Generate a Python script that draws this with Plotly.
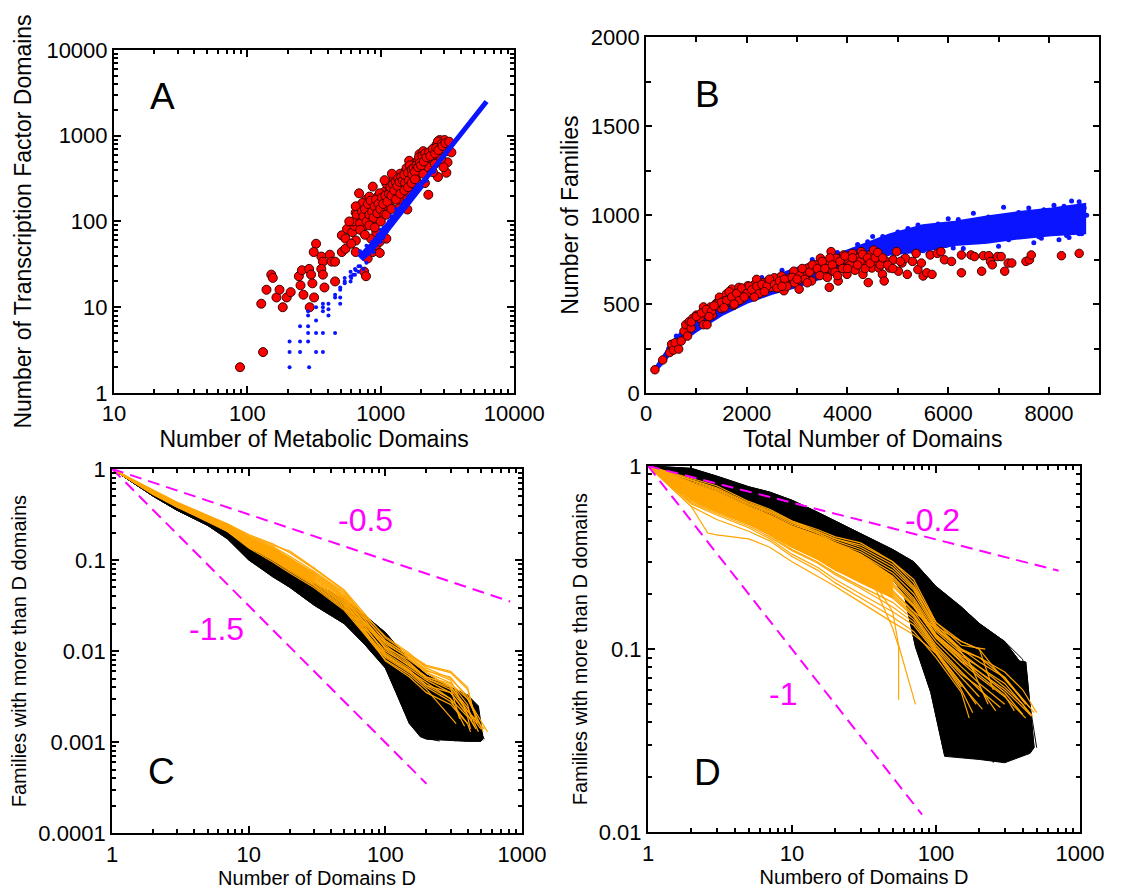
import math
import plotly.graph_objects as go

FONT = "Liberation Sans, Arial, Helvetica, sans-serif"
RED = "#ff0000"
BLUE = "#0a14ff"
ORANGE = "#ffa500"
MAGENTA = "#ff00ff"

# ---------------- Panel A: TF domains vs metabolic domains ----------------
A_RED_X = [88, 131, 127, 184, 139, 151, 155, 165, 174, 197, 211, 243, 256, 250, 263, 290, 300, 307, 316, 293,
           327, 314, 358, 368, 358, 368, 378, 415, 428, 454, 454, 510, 543, 510, 558, 543, 611, 648, 634, 670,
           648, 687, 728, 774, 774, 750, 822, 870, 924, 846, 797, 750, 774, 870, 925, 982, 1010, 1038, 1010, 1067,
           1170, 1170, 1240, 1315, 1395, 1440, 1490, 1540, 1630, 1680, 1790, 1840, 1950, 2010, 2080, 2140, 2270, 2200,
           2390, 2460, 2610, 2680, 2760, 2830, 3000, 3100, 3160, 3100, 3380, 2680, 1580, 1680, 1395, 1100, 980, 925,
           687, 728, 648, 822, 898, 950, 1067, 1100, 1140, 1210, 1282, 1360, 1580, 1735, 1890, 1067, 980, 870,
           2075, 2270, 2460, 2950, 1890, 2080, 2540, 2830, 3200, 2680,
           620, 660, 700, 720, 740, 760, 780, 800, 820, 840, 860, 880, 900, 920, 940, 960, 990, 1020, 1040, 1060,
           1080, 1120, 1150, 1180, 1200, 1230, 1260, 1290, 1330, 1350, 1380, 1420, 1460, 1500, 1520, 1560, 1600,
           1620, 1650, 1700, 1720, 1760, 1800, 1850, 1900, 1930, 1960, 2000, 2050, 2100, 2150, 2200, 2300, 2350,
           2450, 2550, 2600, 2700, 2850, 2900, 3050, 3250, 700, 650, 600, 580, 760, 820, 900, 1000, 1100, 1200,
           1300, 1400, 1500, 1600, 1700, 1800]
A_RED_Y = [2, 3, 11, 10, 16, 24, 22, 13, 16, 13, 15, 23, 27, 18, 14, 28, 24, 19, 13, 10,
           55, 44, 39, 34, 28, 24, 17, 41, 34, 20, 34, 44, 48, 69, 82, 63, 75, 44, 89, 106,
           127, 150, 106, 179, 127, 89, 138, 165, 97, 63, 37, 26, 23, 44, 53, 43, 68, 127, 179, 222,
           150, 233, 303, 213, 360, 255, 180, 393, 510, 330, 470, 303, 610, 393, 530, 280, 205, 470,
           660, 530, 780, 610, 890, 720, 890, 660, 490, 370, 640, 330, 138, 213, 150, 63, 58, 75,
           213, 164, 150, 195, 144, 195, 150, 277, 188, 360, 255, 180, 277, 255, 360, 303, 213, 255,
           360, 430, 375, 430, 510, 660, 470, 535, 790, 860,
           100, 120, 95, 130, 115, 140, 100, 160, 120, 175, 130, 110, 150, 180, 125, 160, 140, 190, 160, 120,
           200, 170, 210, 250, 200, 270, 230, 290, 260, 320, 290, 330, 300, 350, 280, 420, 370,
           300, 450, 400, 350, 420, 380, 450, 430, 560, 480, 450, 580, 500, 620, 560, 640, 580,
           700, 620, 720, 680, 800, 760, 820, 850, 80, 60, 55, 100, 70, 90, 85, 100, 120, 140,
           180, 210, 230, 250, 280, 310]

A_BLUE_X = [207, 290, 207, 248, 327, 368, 207, 248, 285, 248, 285, 285, 327, 368, 454, 327, 285, 285, 327, 368,
            368, 368, 405, 405, 405, 454, 454, 496, 496, 496, 496, 536, 536, 536, 593, 593, 593, 640, 640, 680,
            680, 760, 780, 820, 850, 880, 900, 950, 950, 1000, 1000, 1050, 1100, 1100, 1150, 1200, 1250, 1300,
            1400, 1500, 1600, 700, 650, 620, 600, 740, 780, 860, 700, 1050, 1300, 1700, 1800, 2200, 2500]
A_BLUE_Y = [2, 2, 3, 3, 3, 3, 4, 4, 4, 6, 6, 5, 5, 5, 5, 7, 8, 9, 10, 11,
            9, 10, 8, 9.5, 11, 13, 14, 13, 11, 16, 17, 19, 22, 20, 26, 20, 23, 24, 28, 30,
            26, 40, 33, 42, 48, 44, 62, 58, 70, 80, 58, 65, 90, 75, 100, 115, 110, 140,
            130, 170, 175, 30, 27, 24, 22, 28, 52, 58, 45, 85, 120, 190, 230, 300, 380]

A_BAND_LOW_X = [700, 800, 900, 1000, 1200, 1500, 2000]
A_BAND_LOW_Y = [37, 45, 55, 68, 100, 155, 270]
A_BAND_HIGH_X = [2000, 3000, 4000, 5000, 6200]
A_BAND_HIGH_Y = [270, 600, 1020, 1600, 2500]

# ---------------- Panel B: families vs total domains ----------------
B_RED_X = [176, 331, 471, 507, 542, 577, 647, 697, 753, 788, 823, 858, 894, 929, 999, 1070, 1140, 1210, 1140, 1281,
           1316, 1386, 1457, 1492, 1562, 1597, 1668, 1703, 1738, 1773, 1844, 1914, 1949, 2020, 2090, 2160, 2196, 2266,
           2336, 2421, 2477, 2547, 2618, 2688, 2738, 2794, 2864, 2935, 3005, 3040, 3146, 3216, 3287, 3357, 3427, 3462,
           3533, 3603, 3638, 3674, 3709, 3779, 3815, 3885, 3920, 3990, 4025, 4096, 4166, 4201, 4272, 4307, 4377, 4412,
           4448, 4483, 4518, 4589, 4624, 4694, 4729, 4765, 4835, 4905, 4975, 5011, 5081, 5152, 5187, 5292, 5363, 5398,
           5468, 5503, 5574, 5644, 5679, 5785, 5855, 5925, 6066, 6263, 6263, 6453, 6523, 6664, 6699, 6805, 6840, 6875,
           6981, 7052, 7122, 7192, 7262, 7544, 7614, 7650, 8249, 8601,
           900, 1000, 1100, 1200, 1300, 1400, 1500, 1600, 1650, 1700, 1800, 1850, 1900, 2000, 2050, 2100, 2200, 2250,
           2300, 2400, 2450, 2550, 2600, 2650, 2750, 2800, 2900, 2950, 3050, 3100, 3150, 3250, 3300, 3400, 3450, 3500,
           3550, 3650, 3700, 3750, 3850, 3900, 3950, 4050, 4100, 4150, 4250, 4300, 4350, 4400, 4450, 4550, 4600, 4650,
           4700, 4800, 4900, 5050, 1250, 1350, 1550, 1750, 1950, 2150, 2350, 2700, 3000, 3200, 3600, 3800, 4000, 4200]
B_RED_Y = [131, 186, 228, 274, 241, 283, 247, 292, 347, 384, 320, 402, 365, 420, 438, 420, 384, 384, 484, 484,
           438, 502, 539, 475, 521, 557, 539, 584, 493, 557, 594, 530, 575, 603, 557, 612, 639, 575,
           621, 630, 594, 648, 612, 658, 575, 621, 648, 685, 630, 584, 667, 703, 630, 721, 685, 758,
           667, 731, 594, 795, 685, 758, 630, 703, 776, 667, 740, 785, 703, 758, 795, 667, 731, 621,
           776, 703, 804, 740, 703, 667, 630, 740, 703, 749, 795, 685, 731, 758, 667, 740, 785, 694,
           731, 658, 676, 776, 667, 785, 795, 749, 740, 776, 676, 776, 767, 685, 772, 772, 740, 721,
           767, 767, 685, 731, 731, 740, 749, 776, 772, 785,
           400, 430, 450, 470, 460, 500, 510, 520, 570, 540, 560, 520, 590, 560, 600, 580, 600, 560,
           610, 600, 640, 610, 590, 630, 640, 600, 650, 620, 660, 700, 640, 680, 720, 700, 660, 740,
           700, 760, 720, 680, 740, 700, 770, 720, 760, 690, 740, 780, 700, 760, 730, 760, 790, 720,
           760, 720, 700, 740, 430, 490, 480, 500, 540, 540, 570, 600, 640, 620, 650, 660, 700, 720]

B_BLUE_UP_X = [150, 300, 500, 700, 1000, 1500, 2000, 2500, 3000, 3500, 4200, 4850, 5500, 6130, 6770, 7410,
               8050, 8710]
B_BLUE_UP_Y = [125, 190, 270, 340, 420, 520, 600, 650, 700, 745, 820, 890, 940, 960, 990, 1015,
               1035, 1060]
B_BLUE_LO_X = [8710, 8050, 7410, 6770, 6130, 5500, 4850, 4200, 3500, 3000, 2500, 2000, 1500, 1000, 700, 500,
               300, 150]
B_BLUE_LO_Y = [900, 890, 872, 848, 835, 800, 782, 720, 650, 600, 560, 510, 440, 350, 290, 230,
               160, 115]
B_BLUE_X = [300, 450, 600, 4700, 5200, 5800, 6200, 6800, 7400, 7900, 8300, 8600, 8700, 8650, 8200, 7700, 7000,
            6300, 5600, 5100, 4700, 4400, 4200, 3800, 3300, 2700, 2300, 1800, 1400, 1100,
            5000, 5400, 6000, 6500, 7100, 7600, 8100, 8450, 8550, 8750, 8400, 7850, 7300, 6700, 6100, 5500,
            4500, 5300, 5950, 6600, 7200, 7800, 8350, 8600]
B_BLUE_Y = [180, 250, 320, 880, 925, 950, 975, 990, 1015, 1030, 1050, 1075, 1040, 895, 862, 845, 825,
            812, 785, 762, 850, 850, 835, 790, 750, 690, 650, 590, 520, 470,
            905, 945, 980, 1010, 1045, 1040, 1055, 1080, 905, 1000, 875, 870, 880, 855, 815, 800,
            880, 890, 830, 850, 862, 878, 885, 895]

# ---------------- Panel C: cumulative distributions (metabolic) ----------------
C_X = [1, 2, 3, 5, 7, 10, 15, 20, 30, 50, 70, 100, 150, 200, 300, 400]
C_BLACK_Y = [
    [1, .53, .385, .275, .21, .13, .095, .075, .052, .034, .023, .015, .0075, .005, .0038, .003],
    [1, .52, .375, .265, .20, .125, .09, .07, .048, .031, .021, .013, .006, .004, .003, .0022],
    [1, .52, .37, .26, .195, .12, .085, .066, .045, .029, .019, .011, .005, .0032, .0024, .0018],
    [1, .51, .365, .255, .19, .115, .08, .062, .042, .027, .017, .0095, .0042, .0025, .0018, .0014],
    [1, .51, .36, .25, .185, .11, .078, .058, .040, .025, .016, .0085, .0035, .002, .0014, .0012],
    [1, .505, .355, .245, .18, .108, .074, .055, .037, .023, .0145, .0078, .003, .0016, .0012],
    [1, .50, .35, .24, .175, .105, .07, .052, .034, .021, .013, .007, .0022, .0013, .0011],
    [1, .50, .35, .24, .17, .10, .067, .05, .032, .020, .012, .0066, .0016, .0011],
    [1, .53, .38, .27, .205, .13, .092, .072, .05, .032, .0215, .0135, .0065, .0045, .0034, .0026],
    [1, .515, .37, .26, .195, .118, .083, .064, .044, .028, .018, .0105, .0048, .003, .0021, .0016],
    [1, .51, .36, .25, .185, .112, .077, .059, .039, .026, .015, .009, .0038, .0022, .0015, .0012],
    [1, .505, .355, .245, .18, .107, .072, .054, .036, .022, .014, .0075, .0026, .0015, .0012, .0011],
    [1, .535, .39, .28, .215, .135, .1, .078, .055, .037, .025, .016, .008, .0055, .004, .0033],
]
C_BLACK_END = [(480, .0011), (500, .0011), (520, .00105), (450, .00105), (420, .00105), (350, .00105),
               (330, .00103), (250, .00103), (530, .00108), (470, .00102), (440, .00102), (380, .00102), (500, .0012)]
C_ORANGE_Y = [
    [1, .58, .43, .31, .25, .19, .15, .12, .08, .046, .024, .013, .009, .0068, .0058, .0038],
    [1, .57, .42, .30, .24, .18, .14, .11, .075, .044, .025, .0145, .0095, .0065, .005, .0032],
    [1, .56, .41, .30, .235, .17, .13, .10, .07, .040, .022, .012, .0085, .006, .0052, .003],
    [1, .56, .41, .29, .23, .165, .125, .095, .065, .038, .020, .011, .008, .0058, .0045, .0026],
    [1, .55, .40, .29, .225, .16, .12, .09, .062, .036, .021, .0115, .0075, .005, .004, .0024],
    [1, .55, .40, .28, .22, .155, .115, .088, .060, .034, .018, .010, .007, .0052, .0042, .0022],
    [1, .54, .39, .28, .215, .15, .11, .085, .058, .033, .019, .0095, .0065, .0048, .0035, .002],
    [1, .54, .39, .275, .21, .145, .105, .08, .055, .031, .017, .009, .006, .0045, .003, .0019],
    [1, .53, .385, .27, .21, .14, .10, .078, .053, .030, .016, .0085, .0058, .004, .0028],
    [1, .53, .38, .27, .205, .14, .10, .075, .052, .029, .0165, .0088, .006, .0042, .0035, .002],
    [1, .56, .41, .295, .235, .175, .135, .105, .072, .043, .024, .013, .0088, .0062, .0048],
    [1, .55, .405, .29, .23, .17, .13, .10, .068, .039, .021, .0125, .0082, .0058, .004],
    [1, .57, .42, .30, .24, .175, .135, .10, .073, .041, .023, .0105, .0068, .005, .0038, .0022],
    [1, .54, .395, .28, .22, .16, .12, .09, .063, .035, .019, .0092, .0062, .0042, .003],
    [1, .53, .385, .275, .215, .15, .11, .082, .057, .032, .0175, .0078, .0052, .0035, .0026, .0016],
    [1, .52, .38, .265, .205, .135, .095, .072, .05, .028, .0155, .008, .0055, .0038],
    [1, .57, .425, .305, .245, .185, .145, .125, .082, .047, .026, .014, .0092, .007, .006, .0040],
    [1, .55, .40, .285, .225, .16, .125, .098, .066, .037, .02, .0108, .0072, .0052, .0044, .0030],
]
C_ORANGE_END = [(470, .0016), (520, .0013), (560, .0013), (430, .0017), (480, .0013), (500, .0014),
                (450, .0015), (420, .0014), (400, .0016), (460, .0014), (400, .002), (350, .0018),
                (530, .0014), (380, .0015), (420, .0013), (330, .0016), (440, .0022), (500, .0015)]
C_BLACK_ENV_X = [1, 2, 3, 5, 7, 10, 15, 20, 30, 50, 70, 100, 150, 200, 300, 400, 480, 520,
                 500, 400, 300, 200, 180, 150, 120, 100, 70, 50, 30, 20, 15, 10, 7, 5, 3, 2, 1]
C_BLACK_ENV_Y = [1, .54, .39, .28, .215, .135, .10, .078, .055, .037, .025, .016, .008, .0055, .004, .0033, .0025, .0011,
                 .00102, .00102, .00105, .00108, .00115, .0016, .0035, .0065, .012, .02, .032, .05, .065, .1, .17, .24,
                 .35, .5, 1]
C_ORANGE_ENV_X = [1, 2, 3, 5, 7, 10, 15, 20, 30, 30, 20, 15, 10, 7, 5, 3, 2, 1]
C_ORANGE_ENV_Y = [1, .57, .42, .30, .24, .175, .135, .105, .07, .055, .077, .10, .14, .21, .275, .385, .53, 1]
C_SLOPE_A_X = [1, 820]
C_SLOPE_A_Y = [1, 0.035]
C_SLOPE_B_X = [1, 200]
C_SLOPE_B_Y = [1, 0.00035]

# ---------------- Panel D: cumulative distributions (TF) ----------------
D_BLACK = [
    ([1, 2, 3, 5, 7, 10, 15, 20, 30, 50, 70, 100, 150, 200, 300, 380, 420, 480],
     [1, .97, .88, .77, .72, .65, .56, .50, .43, .35, .30, .22, .17, .138, .11, .086, .085, .029]),
    ([1, 2, 3, 5, 7, 10, 15, 20, 30, 50, 70, 100, 150, 200, 300, 400, 450],
     [1, .95, .86, .75, .70, .63, .54, .48, .41, .33, .28, .205, .16, .13, .10, .08, .031]),
    ([1, 2, 3, 5, 7, 10, 15, 20, 30, 50, 70, 100, 150, 200, 300, 340, 420],
     [1, .93, .84, .73, .68, .61, .52, .46, .40, .32, .27, .20, .15, .12, .09, .085, .028]),
    ([1, 2, 3, 5, 7, 10, 15, 20, 30, 50, 70, 100, 150, 200, 250, 330],
     [1, .92, .82, .72, .66, .60, .51, .45, .38, .31, .26, .19, .145, .115, .10, .026]),
    ([1, 2, 3, 5, 7, 10, 15, 20, 30, 50, 70, 100, 150, 200, 260, 300],
     [1, .90, .80, .70, .64, .58, .50, .44, .37, .30, .25, .18, .14, .105, .07, .025]),
    ([1, 2, 3, 5, 7, 10, 15, 20, 30, 50, 70, 100, 150, 180, 250],
     [1, .89, .78, .68, .62, .56, .48, .42, .36, .29, .24, .175, .13, .10, .024]),
    ([1, 2, 3, 5, 7, 10, 15, 20, 30, 50, 70, 100, 140, 200],
     [1, .88, .77, .66, .60, .54, .47, .41, .35, .28, .23, .16, .11, .025]),
    ([1, 2, 3, 5, 7, 10, 15, 20, 30, 50, 70, 100, 120, 170],
     [1, .86, .75, .64, .58, .52, .45, .40, .34, .27, .22, .15, .10, .026]),
    ([1, 2, 3, 5, 7, 10, 15, 20, 30, 50, 70, 90, 110, 140],
     [1, .85, .73, .62, .56, .50, .44, .38, .32, .26, .20, .14, .08, .027]),
    ([1, 2, 3, 5, 7, 10, 15, 20, 30, 50, 65, 80, 100, 120],
     [1, .83, .71, .59, .53, .48, .42, .37, .31, .25, .19, .12, .06, .027]),
    ([1, 2, 3, 5, 7, 10, 15, 20, 30, 50, 60, 72, 92, 115],
     [1, .82, .70, .57, .52, .46, .40, .35, .30, .24, .20, .103, .058, .026]),
    ([1, 2, 3, 5, 7, 10, 15, 20, 30, 50, 70, 100, 150, 200, 300, 400, 500],
     [1, .96, .87, .76, .71, .64, .55, .49, .42, .34, .29, .215, .165, .135, .11, .088, .029]),
    ([1, 2, 3, 5, 7, 10, 15, 20, 30, 50, 70, 100, 150, 200, 280, 380],
     [1, .91, .81, .71, .65, .59, .505, .445, .375, .305, .255, .185, .14, .11, .09, .027]),
    ([1, 2, 3, 5, 7, 10, 15, 20, 30, 50, 70, 100, 130, 160, 230],
     [1, .87, .76, .65, .59, .53, .46, .405, .345, .275, .225, .155, .12, .10, .025]),
]
D_ORANGE = [
    ([1, 2, 3, 5, 7, 10, 15, 20, 30, 50, 70, 100, 150, 220],
     [1, .84, .76, .63, .57, .50, .44, .40, .36, .29, .22, .14, .105, .10]),
    ([1, 2, 3, 5, 7, 10, 15, 20, 30, 50, 70, 100, 150, 200, 300, 480],
     [1, .80, .72, .60, .54, .47, .42, .38, .34, .27, .21, .13, .10, .085, .07, .045]),
    ([1, 2, 3, 5, 7, 10, 15, 20, 30, 50, 70, 100, 150, 200, 300, 470],
     [1, .78, .70, .58, .52, .45, .40, .36, .32, .25, .19, .125, .095, .08, .065, .043]),
    ([1, 2, 3, 5, 7, 10, 15, 20, 30, 50, 70, 100, 150, 200, 300, 450],
     [1, .75, .67, .56, .50, .43, .38, .34, .30, .24, .18, .12, .09, .075, .06, .044]),
    ([1, 2, 3, 5, 7, 10, 15, 20, 30, 50, 70, 100, 150, 200, 300, 420],
     [1, .72, .64, .54, .48, .41, .36, .32, .28, .22, .17, .115, .085, .07, .055, .042]),
    ([1, 2, 3, 5, 7, 10, 15, 20, 30, 50, 70, 100, 150, 200, 300],
     [1, .70, .62, .52, .46, .40, .34, .30, .27, .21, .16, .11, .08, .065, .05]),
    ([1, 2, 3, 5, 7, 10, 15, 20, 30, 50, 70, 100, 150, 200, 280],
     [1, .68, .60, .50, .44, .38, .33, .29, .25, .20, .155, .105, .075, .06, .048]),
    ([1, 2, 3, 5, 7, 10, 15, 20, 30, 50, 70, 100, 150, 200],
     [1, .66, .58, .49, .43, .36, .31, .27, .24, .19, .15, .10, .07, .055]),
    ([1, 2, 3, 5, 7, 10, 15, 20, 30, 50, 70, 100, 150, 190],
     [1, .64, .56, .48, .42, .35, .30, .26, .22, .18, .145, .098, .065, .05]),
    ([1, 2, 3, 5, 7, 10, 15, 20, 30, 50, 70, 100, 150, 180],
     [1, .62, .54, .46, .40, .33, .28, .24, .20, .16, .135, .095, .06, .045]),
    ([1, 2, 3, 5, 7, 10, 15, 20, 30, 50, 70, 100, 150, 170],
     [1, .60, .51, .44, .39, .32, .27, .23, .19, .15, .125, .09, .058, .042]),
    ([1, 2, 2.6, 3, 5, 7, 10, 15, 20, 30, 50, 70, 100, 150],
     [1, .60, .43, .42, .40, .36, .30, .25, .22, .18, .14, .12, .095, .062]),
    ([1, 2, 3, 5, 7, 10, 15, 20, 30, 50, 55, 55],
     [1, .82, .74, .62, .56, .49, .43, .38, .33, .13, .103, .053]),
    ([1, 2, 3, 5, 7, 10, 15, 20, 30, 50, 55, 72],
     [1, .77, .69, .57, .51, .44, .39, .35, .30, .16, .105, .05]),
    ([1, 2, 3, 5, 7, 10, 15, 20, 30, 50, 70, 100, 150, 200, 300, 400, 500],
     [1, .83, .75, .62, .56, .49, .44, .40, .37, .30, .23, .135, .10, .09, .075, .06, .045]),
    ([1, 2, 3, 5, 7, 10, 15, 20, 30, 50, 70, 100, 150, 200, 300, 400, 460],
     [1, .76, .68, .57, .51, .44, .39, .35, .31, .245, .185, .12, .092, .08, .062, .05, .043]),
    ([1, 2, 3, 5, 7, 10, 15, 20, 30, 50, 70, 100, 150, 200, 250],
     [1, .86, .78, .64, .58, .50, .45, .41, .38, .30, .24, .14, .11, .10, .06]),
    ([1, 2, 3, 5, 7, 10, 15, 20, 30, 50, 70, 100, 130, 170, 230],
     [1, .69, .61, .51, .45, .39, .335, .295, .26, .205, .16, .13, .11, .085, .05]),
    ([1, 2, 3, 5, 7, 10, 15, 20, 30, 50, 70, 100, 150, 200, 300, 350],
     [1, .74, .66, .55, .49, .42, .37, .33, .29, .23, .175, .118, .088, .072, .056, .046]),
    ([1, 2, 3, 5, 7, 10, 15, 20, 30, 50, 70, 100, 150, 200, 300, 420],
     [1, .79, .71, .59, .53, .46, .41, .37, .33, .26, .20, .128, .098, .09, .07, .05]),
    ([1, 2, 3, 5, 7, 10, 15, 20, 30, 50, 70, 100, 150, 200, 300, 400],
     [1, .73, .65, .545, .485, .415, .365, .325, .285, .225, .172, .116, .086, .075, .058, .044]),
    ([1, 2, 3, 5, 7, 10, 15, 20, 30, 50, 70, 100, 150, 200, 260],
     [1, .67, .59, .495, .435, .37, .32, .28, .245, .195, .152, .102, .073, .062, .046]),
    ([1, 2, 3, 5, 7, 10, 15, 20, 30, 50, 70, 100, 150, 210],
     [1, .63, .55, .47, .41, .345, .295, .255, .215, .17, .14, .097, .064, .047]),
    ([1, 2, 3, 5, 7, 10, 15, 20, 30, 50, 70, 100, 150, 200, 250, 350, 450],
     [1, .81, .73, .61, .55, .48, .43, .39, .35, .28, .215, .132, .11, .10, .08, .06, .048]),
]
D_BLACK_ENV_X = [1, 2, 3, 5, 7, 10, 15, 20, 30, 50, 70, 100, 150, 200, 300, 380, 420, 480,
                 450, 300, 200, 115, 92, 72, 60, 50, 30, 20, 10, 5, 3, 2, 1]
D_BLACK_ENV_Y = [1, .97, .88, .77, .72, .65, .56, .50, .43, .35, .30, .22, .17, .138, .11, .086, .085, .029,
                 .027, .024, .025, .026, .058, .103, .2, .24, .30, .35, .46, .57, .70, .82, 1]
D_ORANGE_ENV_X = [1, 2, 3, 5, 7, 10, 15, 20, 30, 50, 50, 30, 20, 15, 10, 7, 5, 3, 2, 1]
D_ORANGE_ENV_Y = [1, .80, .72, .60, .54, .47, .42, .38, .33, .25, .19, .23, .27, .31, .36, .42, .48, .56, .65, 1]
D_SLOPE_A_X = [1, 710]
D_SLOPE_A_Y = [1, 0.268]
D_SLOPE_B_X = [1, 80]
D_SLOPE_B_Y = [1, 0.0125]

# ---------------- figure ----------------
W, H = 1137, 893
fig = go.Figure()


def add(trace, k):
    sfx = "" if k == 1 else str(k)
    trace.update(xaxis="x" + sfx, yaxis="y" + sfx, showlegend=False, hoverinfo="skip")
    fig.add_trace(trace)


# Panel A
add(go.Scatter(x=A_RED_X, y=A_RED_Y, mode="markers",
               marker=dict(size=9, color=RED, line=dict(color="#3a0000", width=1))), 1)
add(go.Scatter(x=A_BAND_LOW_X, y=A_BAND_LOW_Y, mode="lines", line=dict(color=BLUE, width=8)), 1)
add(go.Scatter(x=A_BAND_HIGH_X, y=A_BAND_HIGH_Y, mode="lines", line=dict(color=BLUE, width=5)), 1)
add(go.Scatter(x=A_BLUE_X, y=A_BLUE_Y, mode="markers", marker=dict(size=4, color=BLUE)), 1)

# Panel B
add(go.Scatter(x=B_BLUE_UP_X + B_BLUE_LO_X, y=B_BLUE_UP_Y + B_BLUE_LO_Y, mode="lines", fill="toself",
               fillcolor=BLUE, line=dict(color=BLUE, width=3)), 2)
add(go.Scatter(x=B_BLUE_X, y=B_BLUE_Y, mode="markers", marker=dict(size=5, color=BLUE)), 2)
add(go.Scatter(x=B_RED_X, y=B_RED_Y, mode="markers",
               marker=dict(size=8.5, color=RED, line=dict(color="#3a0000", width=1))), 2)

# Panel C
add(go.Scatter(x=C_BLACK_ENV_X, y=C_BLACK_ENV_Y, mode="lines", fill="toself", fillcolor="black",
               line=dict(color="black", width=1)), 3)
for ys, (ex, ey) in zip(C_BLACK_Y, C_BLACK_END):
    add(go.Scatter(x=C_X[:len(ys)] + [ex], y=ys + [ey], mode="lines", line=dict(color="black", width=1)), 3)
add(go.Scatter(x=C_ORANGE_ENV_X, y=C_ORANGE_ENV_Y, mode="lines", fill="toself", fillcolor=ORANGE,
               line=dict(color=ORANGE, width=1)), 3)
for ys, (ex, ey) in zip(C_ORANGE_Y, C_ORANGE_END):
    add(go.Scatter(x=C_X[:len(ys)] + [ex], y=ys + [ey], mode="lines", line=dict(color=ORANGE, width=1.2)), 3)
for xs, ys in ((C_SLOPE_A_X, C_SLOPE_A_Y), (C_SLOPE_B_X, C_SLOPE_B_Y)):
    add(go.Scatter(x=xs, y=ys, mode="lines", line=dict(color=MAGENTA, width=2, dash="12px,7px")), 3)

# Panel D
add(go.Scatter(x=D_BLACK_ENV_X, y=D_BLACK_ENV_Y, mode="lines", fill="toself", fillcolor="black",
               line=dict(color="black", width=1)), 4)
for xs, ys in D_BLACK:
    add(go.Scatter(x=xs, y=ys, mode="lines", line=dict(color="black", width=1)), 4)
add(go.Scatter(x=D_ORANGE_ENV_X, y=D_ORANGE_ENV_Y, mode="lines", fill="toself", fillcolor=ORANGE,
               line=dict(color=ORANGE, width=1)), 4)
for xs, ys in D_ORANGE:
    add(go.Scatter(x=xs, y=ys, mode="lines", line=dict(color=ORANGE, width=1.2)), 4)
for xs, ys in ((D_SLOPE_A_X, D_SLOPE_A_Y), (D_SLOPE_B_X, D_SLOPE_B_Y)):
    add(go.Scatter(x=xs, y=ys, mode="lines", line=dict(color=MAGENTA, width=2, dash="12px,7px")), 4)


def px_dom(a, b, total):
    return [a / total, b / total]


def py_dom(top, bottom):
    return [1 - bottom / H, 1 - top / H]


TICKFONT = dict(family=FONT, size=22, color="black")
TITLEFONT = dict(family=FONT, size=23, color="black")


def minor_log_ticks(lo, hi):
    return [m * 10.0 ** e for e in range(lo, hi) for m in range(2, 10)]


def log_axis(dom, rng, title, standoff):
    return dict(type="log", domain=dom, range=rng, dtick=1, tick0=0, tickformat="~g",
                ticks="inside", ticklen=7, tickwidth=2, tickcolor="black",
                minor=dict(tickmode="array", tickvals=minor_log_ticks(rng[0], rng[1]),
                           ticks="inside", ticklen=4, tickwidth=1.5, tickcolor="black", showgrid=False),
                showline=True, linewidth=2, linecolor="black", mirror="allticks", layer="above traces",
                showgrid=False, zeroline=False, tickfont=TICKFONT,
                title=dict(text=title, font=TITLEFONT, standoff=standoff))


def lin_axis(dom, rng, dtick, mdtick, title, standoff):
    return dict(type="linear", domain=dom, range=rng, dtick=dtick, tick0=0,
                ticks="inside", ticklen=6, tickwidth=2, tickcolor="black",
                minor=dict(dtick=mdtick, tick0=0, ticks="inside", ticklen=5, tickwidth=1.5, tickcolor="black",
                           showgrid=False),
                showline=True, linewidth=2, linecolor="black", mirror="allticks", layer="above traces",
                showgrid=False, zeroline=False, tickfont=TICKFONT,
                title=dict(text=title, font=TITLEFONT, standoff=standoff))


fig.update_layout(
    width=W, height=H, margin=dict(l=0, r=0, t=0, b=0),
    paper_bgcolor="white", plot_bgcolor="white",
    font=dict(family=FONT, color="black"),
    xaxis=log_axis(px_dom(106, 522, W), [1, 4], "Number of Metabolic Domains", 2),
    yaxis=log_axis(py_dom(39, 392), [0, 4], "Number of Transcription Factor Domains", 8),
    xaxis2=lin_axis(px_dom(659, 1130, W), [0, 9000], 2000, 1000, "Total Number of Domains", 2),
    yaxis2=lin_axis(py_dom(26, 392), [0, 2000], 500, 250, "Number of Families", 6),
    xaxis3=log_axis(px_dom(104, 530, W), [0, 3], "Number of Domains D", 0),
    yaxis3=log_axis(py_dom(470, 845), [-4, 0], "Families with more than D domains", 6),
    xaxis4=log_axis(px_dom(661, 1110, W), [0, 3], "Numbero of Domains D", 0),
    yaxis4=log_axis(py_dom(467, 844), [-2, 0], "Families with more than D domains", 6),
)
for k in ("xaxis3", "xaxis4", "yaxis3", "yaxis4"):
    fig.layout[k].title.font.size = 20
for k in ("xaxis", "xaxis2", "xaxis3", "xaxis4"):
    fig.layout[k].anchor = k.replace("xaxis", "y")
for k in ("yaxis", "yaxis2", "yaxis3", "yaxis4"):
    fig.layout[k].anchor = k.replace("yaxis", "x")

L = math.log10
ANN = [
    ("A", "x", "y", L(23), L(2860), "black", 37),
    ("B", "x2", "y2", 1223, 1678, "black", 37),
    ("C", "x3", "y3", L(2.29), L(0.00048), "black", 37),
    ("D", "x4", "y4", L(2.6), L(0.0211), "black", 37),
    ("-0.5", "x3", "y3", L(72), L(0.273), MAGENTA, 32),
    ("-1.5", "x3", "y3", L(5.8), L(0.0176), MAGENTA, 32),
    ("-0.2", "x4", "y4", L(94.6), L(0.51), MAGENTA, 32),
    ("-1", "x4", "y4", L(8.7), L(0.0567), MAGENTA, 32),
]
for text, xr, yr, xv, yv, col, size in ANN:
    fig.add_annotation(text=text, xref=xr, yref=yr, x=xv, y=yv, showarrow=False,
                       font=dict(family=FONT, size=size, color=col), xanchor="center", yanchor="middle")

fig.write_html("out.html", config={"displayModeBar": False},
               post_script="document.body.style.margin='0';document.body.style.overflow='hidden';")
